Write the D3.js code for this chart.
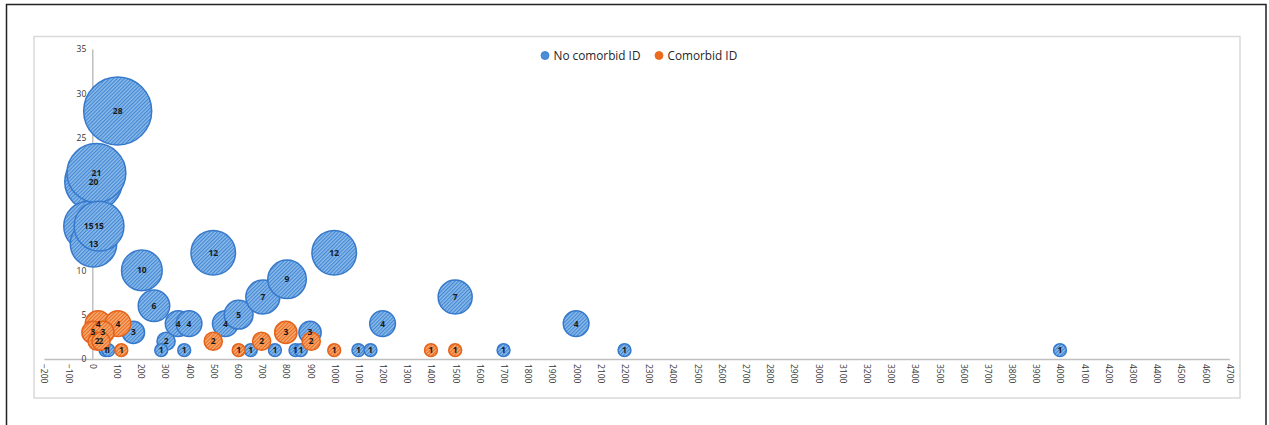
<!DOCTYPE html>
<html>
<head>
<meta charset="utf-8">
<script src="https://cdn.jsdelivr.net/npm/d3@7"></script>
<style>
  html, body { margin: 0; padding: 0; background: #fff; }
  svg { display: block; }
</style>
</head>
<body>
<svg id="chart" width="1269" height="425"></svg>
<script>
// ---- Data ----
const seriesNames = ["No comorbid ID", "Comorbid ID"];

// No comorbid ID: x value and count (bubble label / size), in drawing order
const noComorbidX =     [5,  -15, 105, 17, 5,  28, 205, 255, 170, 55, 66, 305, 285, 355, 400, 380, 500, 550, 605, 705, 805, 655, 755, 840, 862, 900, 1000, 1100, 1150, 1200, 1500, 1700, 2000, 2200, 4000];
const noComorbidCount = [20, 15,  28,  21, 13, 15, 10,  6,   3,   1,  1,  2,   1,   4,   4,   1,   12,  4,   5,   7,   9,   1,   1,   1,   1,   3,   12,   1,    1,    4,    7,    1,    4,    1,    1];

// Comorbid ID
const comorbidX =     [24, 106, 3, 44, 20, 36, 120, 500, 605, 700, 800, 905, 1000, 1400, 1500];
const comorbidCount = [4,  4,   3, 3,  2,  2,  1,   2,   1,   2,   3,   2,   1,    1,    1];

const xTickValues = d3.range(-200, 4701, 100);
const yTickValues = [0, 5, 10, 15, 20, 25, 30, 35];

// ---- Layout ----
const svg = d3.select("#chart");

// outer black frame (bottom edge falls outside the picture)
svg.append("rect").attr("x", 6.5).attr("y", 4.5).attr("width", 1259.5).attr("height", 440)
  .attr("fill", "none").attr("stroke", "#222").attr("stroke-width", 1.5);
// inner light grey chart-area border
svg.append("rect").attr("x", 34).attr("y", 36.5).attr("width", 1206).attr("height", 361.5)
  .attr("fill", "#fff").attr("stroke", "#d9d9d9").attr("stroke-width", 1.5);

const x = d3.scaleLinear().domain([-200, 4700]).range([43.9, 1229.3]);
const y = d3.scaleLinear().domain([0, 35]).range([359, 49]);
const r = d3.scaleSqrt().domain([0, 28]).range([0, 34]);

// hatch patterns
const defs = svg.append("defs");
function hatch(id, base, line) {
  const p = defs.append("pattern").attr("id", id)
    .attr("patternUnits", "userSpaceOnUse").attr("width", 2.6).attr("height", 2.6)
    .attr("patternTransform", "rotate(-45)");
  p.append("rect").attr("width", 2.6).attr("height", 2.6).attr("fill", base);
  p.append("rect").attr("width", 2.6).attr("height", 1.1).attr("fill", line);
}
hatch("hatchBlue", "#8dbbe9", "#3f86d4");
hatch("hatchOrange", "#f7aa74", "#ea6a1a");

const styles = [
  { fill: "url(#hatchBlue)", stroke: "#3679cc" },
  { fill: "url(#hatchOrange)", stroke: "#e5631a" }
];

// axes
const xAxis = d3.axisBottom(x).tickValues(xTickValues).tickSize(0).tickPadding(0).tickFormat(d3.format("d"));
const gx = svg.append("g").attr("transform", `translate(0,${y(0)})`).call(xAxis);
gx.select(".domain").attr("stroke", "#bfbfbf").attr("stroke-width", 1.5);
gx.selectAll("text")
  .attr("transform", "rotate(90)")
  .attr("x", 5).attr("y", 0).attr("dy", "0.35em")
  .attr("text-anchor", "start")
  .attr("fill", "#333")
  .style("font-family", "'Open Sans', sans-serif").style("font-size", "8.5px");

const yAxis = d3.axisLeft(y).tickValues(yTickValues).tickSize(0).tickPadding(6);
const gy = svg.append("g").attr("transform", `translate(${x(0)},0)`).call(yAxis);
gy.select(".domain").attr("stroke", "#bfbfbf").attr("stroke-width", 1.5);
gy.selectAll("text")
  .attr("fill", "#333")
  .style("font-family", "'Open Sans', sans-serif").style("font-size", "8.5px");

// bubbles
const series = [
  noComorbidX.map((v, i) => ({ x: v, n: noComorbidCount[i], s: 0 })),
  comorbidX.map((v, i) => ({ x: v, n: comorbidCount[i], s: 1 }))
];

const gB = svg.append("g");
series.forEach((pts, si) => {
  gB.selectAll(null).data(pts).enter().append("circle")
    .attr("cx", d => x(d.x)).attr("cy", d => y(d.n)).attr("r", d => r(d.n))
    .attr("fill", styles[si].fill).attr("stroke", styles[si].stroke).attr("stroke-width", 1.5);
});

// labels on top
const gL = svg.append("g");
series.forEach(pts => {
  gL.selectAll(null).data(pts).enter().append("text")
    .attr("x", d => x(d.x)).attr("y", d => y(d.n)).attr("dy", "0.35em")
    .attr("text-anchor", "middle")
    .attr("fill", "#1a1a1a")
    .style("font-family", "'Open Sans', sans-serif").style("font-size", "8.5px").style("font-weight", "700")
    .text(d => d.n);
});

// legend
const legendItems = [{ name: seriesNames[0], cx: 545 }, { name: seriesNames[1], cx: 659 }];
const gLeg = svg.append("g");
legendItems.forEach((it, i) => {
  gLeg.append("circle").attr("cx", it.cx).attr("cy", 55.5).attr("r", 4)
    .attr("fill", i === 0 ? "#4a8ed6" : "#ec6c1c").attr("stroke", styles[i].stroke).attr("stroke-width", 0.8);
  gLeg.append("text").attr("x", it.cx + 8.5).attr("y", 55.5).attr("dy", "0.35em")
    .attr("fill", "#262626")
    .style("font-family", "'Open Sans', sans-serif").style("font-size", "11.8px")
    .text(it.name);
});
</script>
</body>
</html>
